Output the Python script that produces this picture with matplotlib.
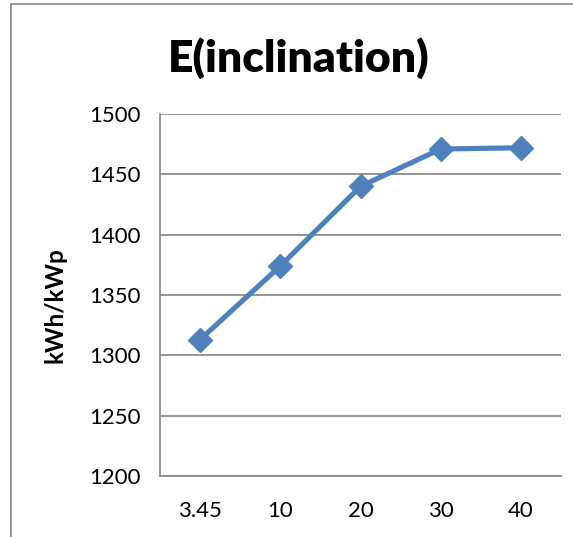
import matplotlib
matplotlib.use('Agg')
import matplotlib.pyplot as plt
from matplotlib.patches import Rectangle

# data
inclination = ['3.45', '10', '20', '30', '40']
energy = [1313, 1374, 1440, 1471, 1472]
yticks = [1200, 1250, 1300, 1350, 1400, 1450, 1500]

plt.rcParams['font.family'] = ['Lato', 'DejaVu Sans']

fig = plt.figure(figsize=(5.73, 5.37), dpi=100)
ax = fig.add_axes([160/573, 1 - 476/537, 401/573, (476 - 114)/537])

# outer chart frame (cropped at right and bottom)
fig.patches.append(Rectangle((11/573, -0.1), 1.2, (537 - 4)/537 + 0.1,
                             transform=fig.transFigure, fill=False,
                             edgecolor='#8c8c8c', linewidth=1.3))

x = range(len(inclination))
ax.plot(x, energy, color='#4f81bd', linewidth=3.7, marker='D',
        markersize=12, markeredgecolor='#4f81bd', zorder=3, clip_on=False)

ax.set_xlim(-0.5, len(inclination) - 0.5)
ax.set_ylim(1200, 1500)
ax.set_yticks(yticks)
ax.set_xticks(list(x))
ax.set_xticklabels(inclination)
ax.tick_params(length=0, labelsize=16, colors='black')
ax.tick_params(axis='y', pad=14)
ax.tick_params(axis='x', pad=18)

ax.yaxis.grid(True, color='#8c8c8c', linewidth=1.3)
ax.set_axisbelow(True)
for s in ['top', 'right']:
    ax.spines[s].set_visible(False)
for s in ['left', 'bottom']:
    ax.spines[s].set_color('#8c8c8c')
    ax.spines[s].set_linewidth(1.3)

ax.set_ylabel('kWh/kWp', fontsize=17.5, fontweight='bold', labelpad=0)
ax.yaxis.set_label_coords(-(160 - 66)/401, (476 - 305)/362)

fig.text(299/573, 1 - 58/537, 'E(inclination)', fontsize=32,
         fontweight='heavy', ha='center', va='center')

fig.savefig('out.png', dpi=100)
